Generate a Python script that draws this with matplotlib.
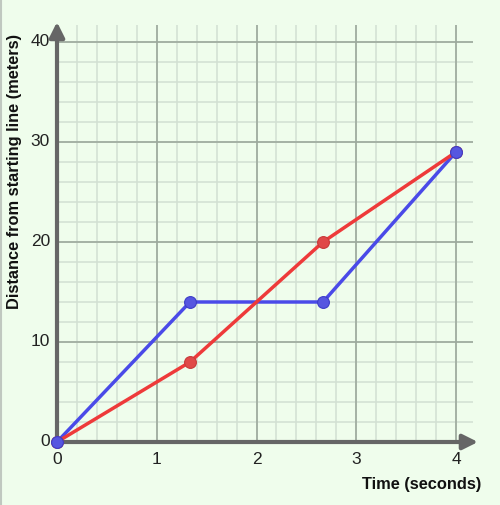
import matplotlib.pyplot as plt
import numpy as np

plt.rcParams['font.family'] = ['Liberation Sans', 'DejaVu Sans']

# data
times = [0, 4/3, 8/3, 4]
blue_dist = [0, 14, 14, 29]
red_dist = [0, 8, 20, 29]
x_ticks = [0, 1, 2, 3, 4]
y_ticks = [0, 10, 20, 30, 40]

bg = '#effdec'
fig = plt.figure(figsize=(5, 5.05), dpi=100, facecolor=bg)
# thin line on the left edge
fig.add_artist(plt.Line2D([0.001, 0.001], [0, 1], color='#c0c8c0', lw=1.5, transform=fig.transFigure))

xmax, ymax = 4.17, 41.7
ax = fig.add_axes([57/500, 63/505, xmax*99.75/500, ymax*10/505])
ax.set_facecolor(bg)
ax.set_xlim(0, xmax)
ax.set_ylim(0, ymax)

# minor grid
for x in np.arange(0.2, xmax, 0.2):
    ax.axvline(x, color='#d2e0d2', lw=1.1, zorder=1)
for y in np.arange(2, ymax, 2):
    ax.axhline(y, color='#d2e0d2', lw=1.1, zorder=1)
# major grid
for x in x_ticks[1:]:
    ax.axvline(x, color='#9ca99c', lw=1.2, zorder=2)
for y in y_ticks[1:]:
    ax.axhline(y, color='#9ca99c', lw=1.2, zorder=2)

for s in ax.spines.values():
    s.set_visible(False)
ax.set_xticks([])
ax.set_yticks([])

# axes with arrows
arrow = dict(arrowstyle='-|>,head_length=0.9,head_width=0.45', color='#666666', lw=3,
             shrinkA=0, shrinkB=0)
ax.annotate('', xy=(xmax + 0.05, 0), xytext=(0, 0), arrowprops=arrow,
            annotation_clip=False, zorder=3)
ax.annotate('', xy=(0, ymax + 0.3), xytext=(0, 0), arrowprops=arrow,
            annotation_clip=False, zorder=3)

for x in x_ticks:
    ax.text(x, -1.0, str(x), ha='center', va='top', fontsize=12.5, color='#222222')
for y in y_ticks:
    ax.text(-0.07, y, str(y), ha='right', va='center', fontsize=12.5, color='#222222')

ax.plot(times, blue_dist, color='#4a4ae8', lw=2.5, zorder=4, clip_on=False)
ax.plot(times, red_dist, color='#ee3a3a', lw=2.5, zorder=5, clip_on=False)
ax.plot(times, red_dist, 'o', ms=8.5, mfc='#e04848', mec='#c83a3a', mew=0.8, zorder=6, clip_on=False)
ax.plot(times, blue_dist, 'o', ms=8.5, mfc='#5656e0', mec='#3e3ec8', mew=0.8, zorder=7, clip_on=False)

fig.text(481/500, 1 - 484/505, 'Time (seconds)', ha='right', va='center',
         fontsize=11.8, fontweight='bold', color='#111111')
fig.text(15/500, 1 - 171/505, 'Distance from starting line (meters)', ha='center', va='center',
         rotation=90, fontsize=11.8, fontweight='bold', color='#111111')

fig.savefig('out.png', dpi=100, facecolor=bg)
